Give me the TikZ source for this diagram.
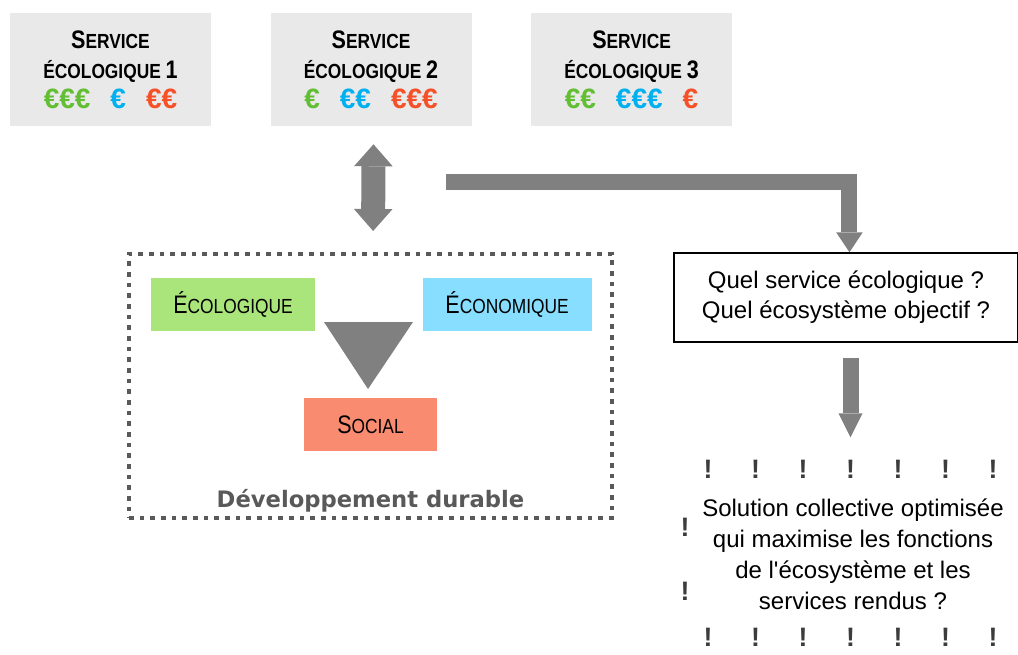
\documentclass[tikz,border=0pt]{standalone}
\usepackage{fontspec}
\setmainfont{Liberation Sans}
\newfontfamily\narrowfont[FakeStretch=0.85]{Liberation Sans}
\newfontfamily\eurofont{Liberation Sans}
\newfontfamily\ddfont{DejaVu Sans}
\usepackage{xcolor}
\definecolor{svcGray}{RGB}{233,233,233}
\definecolor{arrGray}{RGB}{128,128,128}
\definecolor{frameGray}{RGB}{89,89,89}
\definecolor{bangGray}{RGB}{60,60,60}
\definecolor{euroG}{RGB}{98,190,50}
\definecolor{euroB}{RGB}{0,176,240}
\definecolor{euroR}{RGB}{245,80,40}
\definecolor{ecoGreen}{RGB}{169,229,122}
\definecolor{ecoBlue}{RGB}{135,222,255}
\definecolor{socRed}{RGB}{249,139,113}
\usepackage{tikz}
\usetikzlibrary{positioning,arrows.meta}
\newcommand{\bigsz}{\fontsize{19pt}{22.5pt}\selectfont}
\newcommand{\smsz}{\fontsize{15.3pt}{22.5pt}\selectfont}
\newcommand{\smcap}[2]{{\bigsz#1}{\smsz#2}}
\newcommand{\euros}[3]{{\eurofont\bfseries\fontsize{21pt}{22.5pt}\selectfont
  \textcolor{euroG}{#1}\hspace{15pt}\textcolor{euroB}{#2}\hspace{15pt}\textcolor{euroR}{#3}}}

\begin{document}
\begin{tikzpicture}[x=0.75pt,y=-0.75pt,node distance=5mm and 44.25pt,
  svc/.style={fill=svcGray,minimum width=150.75pt,minimum height=84.75pt,inner sep=0pt,align=center,font=\narrowfont\bfseries\bigsz},
  pil/.style={minimum height=39.75pt,inner sep=0pt,font=\narrowfont\bigsz},
  a/.style={draw=arrGray,line width=12pt,line join=miter,-{Triangle[width=20pt,length=15pt,line width=0pt]}},
  bang/.style={inner sep=0pt,text=bangGray,font=\bfseries\fontsize{20pt}{22pt}\selectfont}]
  \useasboundingbox (0,0) rectangle (1018,654);
  % services
  \node[svc] (s1) at (110.5,69.5) {\smcap{S}{ERVICE}\\{\smsz ÉCOLOGIQUE }1\\\euros{€€€}{€}{€€}};
  \node[svc,right=of s1] (s2) {\smcap{S}{ERVICE}\\{\smsz ÉCOLOGIQUE }2\\\euros{€}{€€}{€€€}};
  \node[svc,right=of s2] (s3) {\smcap{S}{ERVICE}\\{\smsz ÉCOLOGIQUE }3\\\euros{€€}{€€€}{€}};
  % developpement durable
  \node[draw=frameGray,line width=3pt,dash pattern=on 3.4pt off 4.6pt,minimum width=362.25pt,minimum height=198pt] (dd) at (370.5,386) {};
  \node[pil,fill=ecoGreen,minimum width=123pt] (eco) at (233,304.5) {\smcap{É}{COLOGIQUE}};
  \node[pil,fill=ecoBlue,minimum width=126.75pt,right=80.25pt of eco] (econ) {\smcap{É}{CONOMIQUE}};
  \node[pil,fill=socRed,minimum width=99.75pt] (soc) at (370.5,424.5) {\smcap{S}{OCIAL}};
  \fill[arrGray] (324,322) -- (413,322) -- (368,389) -- cycle;
  \node[anchor=base,text=frameGray,font=\ddfont\bfseries\fontsize{17pt}{20pt}\selectfont] (ddlbl) at (370.5,507) {Développement durable};
  % questions
  \node[draw=black,line width=1.1pt,minimum width=258pt,minimum height=66.75pt,inner sep=0pt,align=center,font=\fontsize{18pt}{22.5pt}\selectfont] (q) at (846,297.5) {Quel service écologique ?\\Quel écosystème objectif ?};
  \node[align=center,font=\fontsize{18pt}{23.25pt}\selectfont] (sol) at (853,554) {Solution collective optimisée\\qui maximise les fonctions\\de l\textquotesingle écosystème et les\\services rendus ?};
  \foreach \k in {0,...,6} {
    \node[bang] (top\k) at ({708+47.5*\k},469.5) {!};
    \node[bang] (bot\k) at ({708+47.5*\k},637) {!};
  }
  \node[bang] (lft1) at (685,527) {!};
  \node[bang] (lft2) at (685,591) {!};
  % arrows
  \coordinate (elb) at (446,181.5);
  \draw[a,line width=18pt,{Triangle[width=29pt,length=16.5pt,line width=0pt]}-{Triangle[width=29pt,length=16.5pt,line width=0pt]},shorten <=13.5pt,shorten >=15.75pt] ([xshift=1.9pt]s2.south) -- ([xshift=1.9pt]dd.north);
  \draw[a] (elb) -| ([xshift=2.6pt]q.north);
  \draw[a,-{Triangle[width=18pt,length=18pt,line width=0pt]},shorten <=11.25pt,shorten >=17pt] (q.south -| top3) -- (top3.north);
\end{tikzpicture}
\end{document}
